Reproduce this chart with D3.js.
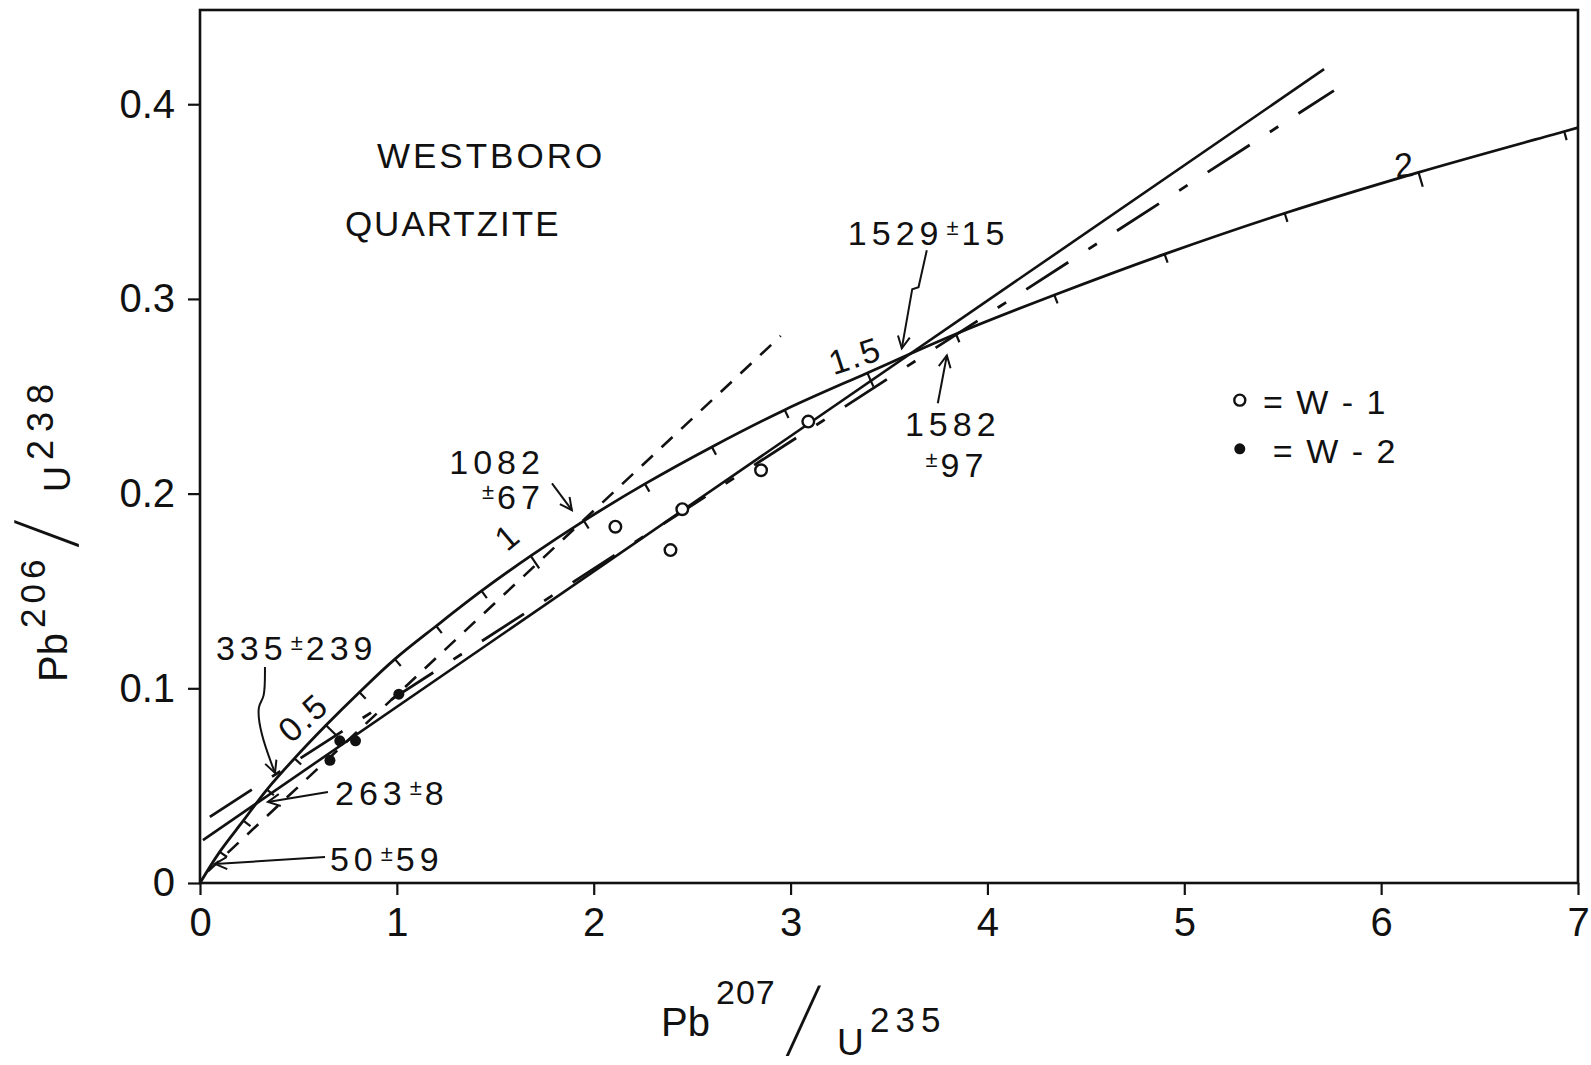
<!DOCTYPE html>
<html>
<head>
<meta charset="utf-8">
<script src="https://cdn.jsdelivr.net/npm/d3@7"></script>
<style>
body { margin: 0; background: #fff; }
text { font-family: "Liberation Sans", Arial, sans-serif; fill: #111; }
</style>
</head>
<body>
<div class="chart"></div>
<script>
const width = 1591
const height = 1065
const margin = { top: 10, right: 13, left: 200, bottom: 182 }
const innerWidth = width - margin.left - margin.right
const innerHeight = height - margin.top - margin.bottom

// concordia (every 0.1 b.y.)
const concordiaAge = [0, 0.1, 0.2, 0.3, 0.4, 0.5, 0.6, 0.7, 0.8, 0.9, 1.0, 1.1, 1.2, 1.3, 1.4, 1.5, 1.6, 1.7, 1.8, 1.9, 2.0, 2.1]
const concordiaX = [0, 0.10, 0.22, 0.34, 0.48, 0.64, 0.81, 0.99, 1.20, 1.43, 1.68, 1.95, 2.26, 2.60, 2.97, 3.39, 3.84, 4.34, 4.90, 5.51, 6.19, 6.93]
const concordiaY = [0, 0.016, 0.032, 0.048, 0.064, 0.081, 0.098, 0.115, 0.132, 0.150, 0.168, 0.186, 0.205, 0.224, 0.243, 0.262, 0.282, 0.302, 0.323, 0.344, 0.365, 0.386]
const concordiaEnd = [7, 0.388]
const ageLabels = ["0.5", "1", "1.5", "2"]

// samples
const w1X = [2.11, 2.39, 2.45, 2.85, 3.09]
const w1Y = [0.183, 0.171, 0.192, 0.212, 0.237]
const w2X = [0.66, 0.71, 0.79, 1.01]
const w2Y = [0.063, 0.073, 0.073, 0.097]

// chords (end points)
const solidChord = [[0.015, 0.022], [5.71, 0.418]]
const dashDotChord = [[0.05, 0.034], [5.76, 0.407]]
const dashedChord = [[0.04, 0.006], [2.95, 0.281]]

const xTicks = [0, 1, 2, 3, 4, 5, 6, 7]
const yTicks = [0, 0.1, 0.2, 0.3, 0.4]
const yTickLabels = ["0", "0.1", "0.2", "0.3", "0.4"]

const svg = d3.select(".chart")
    .append("svg")
    .attr("width", width)
    .attr("height", height)
    .style("display", "block")

const defs = svg.append("defs")
defs.append("marker")
    .attr("id", "arrow")
    .attr("markerUnits", "userSpaceOnUse")
    .attr("markerWidth", 16)
    .attr("markerHeight", 16)
    .attr("refX", 13)
    .attr("refY", 7)
    .attr("orient", "auto")
    .append("path")
    .attr("d", "M1,1 L13,7 L1,13")
    .attr("fill", "none")
    .attr("stroke", "#111")
    .attr("stroke-width", 2)

const g = svg.append("g")
    .attr("transform", "translate(" + margin.left + "," + margin.top + ")")

const xScale = d3.scaleLinear()
    .domain([0, 7])
    .range([0, innerWidth])

const yScale = d3.scaleLinear()
    .domain([0, 0.4484])
    .range([innerHeight, 0])

const xAxis = d3.axisBottom(xScale)
    .tickValues(xTicks)
    .tickFormat(d => d)
    .tickSize(12)
    .tickPadding(13)

const yAxis = d3.axisLeft(yScale)
    .tickValues(yTicks)
    .tickFormat((d, i) => yTickLabels[i])
    .tickSize(12)
    .tickPadding(13)

g.append("g")
    .attr("class", "x-axis")
    .attr("transform", "translate(0," + innerHeight + ")")
    .call(xAxis)

g.append("g")
    .attr("class", "y-axis")
    .call(yAxis)

g.selectAll(".domain").remove()
g.selectAll(".tick line").attr("stroke", "#111").attr("stroke-width", 2.2)
g.selectAll(".tick text")
    .attr("fill", "#111")
    .style("font-size", "40px")
    .style("font-family", "Liberation Sans, Arial, sans-serif")

// frame
g.append("rect")
    .attr("x", 0)
    .attr("y", 0)
    .attr("width", innerWidth)
    .attr("height", innerHeight)
    .attr("fill", "none")
    .attr("stroke", "#111")
    .attr("stroke-width", 2.6)

// concordia
const concordia = concordiaX.map((x, i) => ({ t: concordiaAge[i], x: x, y: concordiaY[i] }))
const concordiaPath = concordia.concat([{ t: null, x: concordiaEnd[0], y: concordiaEnd[1] }])

const curveLine = d3.line()
    .curve(d3.curveCatmullRom)
    .x(d => xScale(d.x))
    .y(d => yScale(d.y))

g.append("path")
    .attr("d", curveLine(concordiaPath))
    .attr("fill", "none")
    .attr("stroke", "#111")
    .attr("stroke-width", 2.8)

// age ticks on the concordia
concordia.forEach(function(d, i) {
    if (i === 0) return
    const a = concordiaPath[i - 1]
    const b = concordiaPath[i + 1]
    const dx = xScale(b.x) - xScale(a.x)
    const dy = yScale(b.y) - yScale(a.y)
    const len = Math.sqrt(dx * dx + dy * dy)
    const labelled = ageLabels.indexOf(String(d.t)) >= 0
    const L = labelled ? 15 : 9
    const px = xScale(d.x), py = yScale(d.y)
    g.append("line")
        .attr("x1", px)
        .attr("y1", py)
        .attr("x2", px - dy / len * L)
        .attr("y2", py + dx / len * L)
        .attr("stroke", "#111")
        .attr("stroke-width", 2.2)
})

// age labels along the concordia
const ageLabelPos = [[0.523, 0.0851, -42], [1.56, 0.178, -40], [3.327, 0.271, -18], [6.12, 0.369, -6]]
ageLabels.forEach(function(lab, i) {
    const p = ageLabelPos[i]
    g.append("text")
        .attr("transform", "translate(" + xScale(p[0]) + "," + yScale(p[1]) + ") rotate(" + p[2] + ")")
        .attr("text-anchor", "middle")
        .attr("dy", "0.36em")
        .style("font-size", "34px")
        .style("letter-spacing", "2px")
        .text(lab)
})

// chords
const chord = d3.line()
    .x(d => xScale(d[0]))
    .y(d => yScale(d[1]))

g.append("path")
    .attr("d", chord(solidChord))
    .attr("fill", "none")
    .attr("stroke", "#111")
    .attr("stroke-width", 2.6)

g.append("path")
    .attr("d", chord(dashDotChord))
    .attr("fill", "none")
    .attr("stroke", "#111")
    .attr("stroke-width", 2.8)
    .attr("stroke-dasharray", "50,24,10,24")

g.append("path")
    .attr("d", chord(dashedChord))
    .attr("fill", "none")
    .attr("stroke", "#111")
    .attr("stroke-width", 2.6)
    .attr("stroke-dasharray", "15,12")

// samples
g.selectAll(".w1")
    .data(w1X)
    .enter()
    .append("circle")
    .attr("cx", d => xScale(d))
    .attr("cy", (d, i) => yScale(w1Y[i]))
    .attr("r", 5.8)
    .attr("fill", "#fff")
    .attr("stroke", "#111")
    .attr("stroke-width", 2.4)

g.selectAll(".w2")
    .data(w2X)
    .enter()
    .append("circle")
    .attr("cx", d => xScale(d))
    .attr("cy", (d, i) => yScale(w2Y[i]))
    .attr("r", 5.5)
    .attr("fill", "#111")

// title
g.append("text")
    .attr("x", xScale(0.899))
    .attr("y", yScale(0.3673))
    .style("font-size", "35px")
    .style("letter-spacing", "3px")
    .text("WESTBORO")

g.append("text")
    .attr("x", xScale(0.736))
    .attr("y", yScale(0.3324))
    .style("font-size", "35px")
    .style("letter-spacing", "2px")
    .text("QUARTZITE")

// intercept ages
function ageNote(x, y, anchor, main, err) {
    const t = g.append("text")
        .attr("x", xScale(x))
        .attr("y", yScale(y))
        .attr("text-anchor", anchor)
        .style("font-size", "34px")
        .style("letter-spacing", "5px")
    if (main) t.append("tspan").text(main)
    if (err) {
        t.append("tspan").attr("dy", -10).attr("dx", main ? 3 : 0).style("font-size", "22px").style("letter-spacing", "3px").text("±")
        t.append("tspan").attr("dy", 10).text(err)
    }
}

ageNote(3.291, 0.3275, "start", "1529", "15")
ageNote(3.824, 0.2295, "middle", "1582", null)
ageNote(3.845, 0.2084, "middle", "", "97")
ageNote(1.752, 0.210, "end", "1082", null)
ageNote(1.752, 0.192, "end", "", "67")
ageNote(0.081, 0.1145, "start", "335", "239")
ageNote(0.686, 0.040, "start", "263", "8")
ageNote(0.660, 0.0064, "start", "50", "59")

// arrows
const arrowLine = d3.line()
    .x(d => xScale(d[0]))
    .y(d => yScale(d[1]))

const arrows = [
    { pts: [[3.692, 0.325], [3.650, 0.306], [3.618, 0.305], [3.565, 0.2746]], curve: d3.curveLinear },
    { pts: [[3.748, 0.2464], [3.794, 0.271]], curve: d3.curveLinear },
    { pts: [[1.788, 0.2053], [1.889, 0.1915]], curve: d3.curveLinear },
    { pts: [[0.330, 0.1109], [0.330, 0.0939], [0.290, 0.0924], [0.305, 0.077], [0.381, 0.0565]], curve: d3.curveBasis },
    { pts: [[0.650, 0.0467], [0.345, 0.0416]], curve: d3.curveLinear },
    { pts: [[0.635, 0.0133], [0.076, 0.0098]], curve: d3.curveLinear }
]

arrows.forEach(function(a) {
    g.append("path")
        .attr("d", arrowLine.curve(a.curve)(a.pts))
        .attr("fill", "none")
        .attr("stroke", "#111")
        .attr("stroke-width", 2)
        .attr("marker-end", "url(#arrow)")
})

// legend
g.append("circle")
    .attr("cx", xScale(5.282))
    .attr("cy", yScale(0.248))
    .attr("r", 5.5)
    .attr("fill", "#fff")
    .attr("stroke", "#111")
    .attr("stroke-width", 2.4)

g.append("circle")
    .attr("cx", xScale(5.282))
    .attr("cy", yScale(0.223))
    .attr("r", 5.5)
    .attr("fill", "#111")

g.append("text")
    .attr("x", xScale(5.40))
    .attr("y", yScale(0.2408))
    .style("font-size", "34px")
    .style("letter-spacing", "2px")
    .text("= W - 1")

g.append("text")
    .attr("x", xScale(5.45))
    .attr("y", yScale(0.2156))
    .style("font-size", "34px")
    .style("letter-spacing", "2px")
    .text("= W - 2")

// axis titles
const xTitle = svg.append("g")
xTitle.append("text").attr("x", 661).attr("y", 1036).style("font-size", "40px").text("Pb")
xTitle.append("text").attr("x", 716).attr("y", 1004).style("font-size", "34px").style("letter-spacing", "1px").text("207")
xTitle.append("text")
    .attr("transform", "translate(786,1055) skewX(-19) scale(1,2.4)")
    .style("font-size", "40px")
    .text("/")
xTitle.append("text").attr("x", 837).attr("y", 1055).style("font-size", "37px").text("U")
xTitle.append("text").attr("x", 870).attr("y", 1032).style("font-size", "35px").style("letter-spacing", "6px").text("235")

const yTitle = svg.append("g")
yTitle.append("text").attr("transform", "translate(67,682) rotate(-90)").style("font-size", "40px").text("Pb")
yTitle.append("text").attr("transform", "translate(45,628) rotate(-90)").style("font-size", "35px").style("letter-spacing", "5px").text("206")
yTitle.append("text")
    .attr("transform", "translate(78,547) rotate(-90) skewX(-14) scale(1,2.2)")
    .style("font-size", "40px")
    .text("/")
yTitle.append("text").attr("transform", "translate(70,492) rotate(-90)").style("font-size", "36px").text("U")
yTitle.append("text").attr("transform", "translate(53,460) rotate(-90)").style("font-size", "36px").style("letter-spacing", "8px").text("238")
</script>
</body>
</html>
